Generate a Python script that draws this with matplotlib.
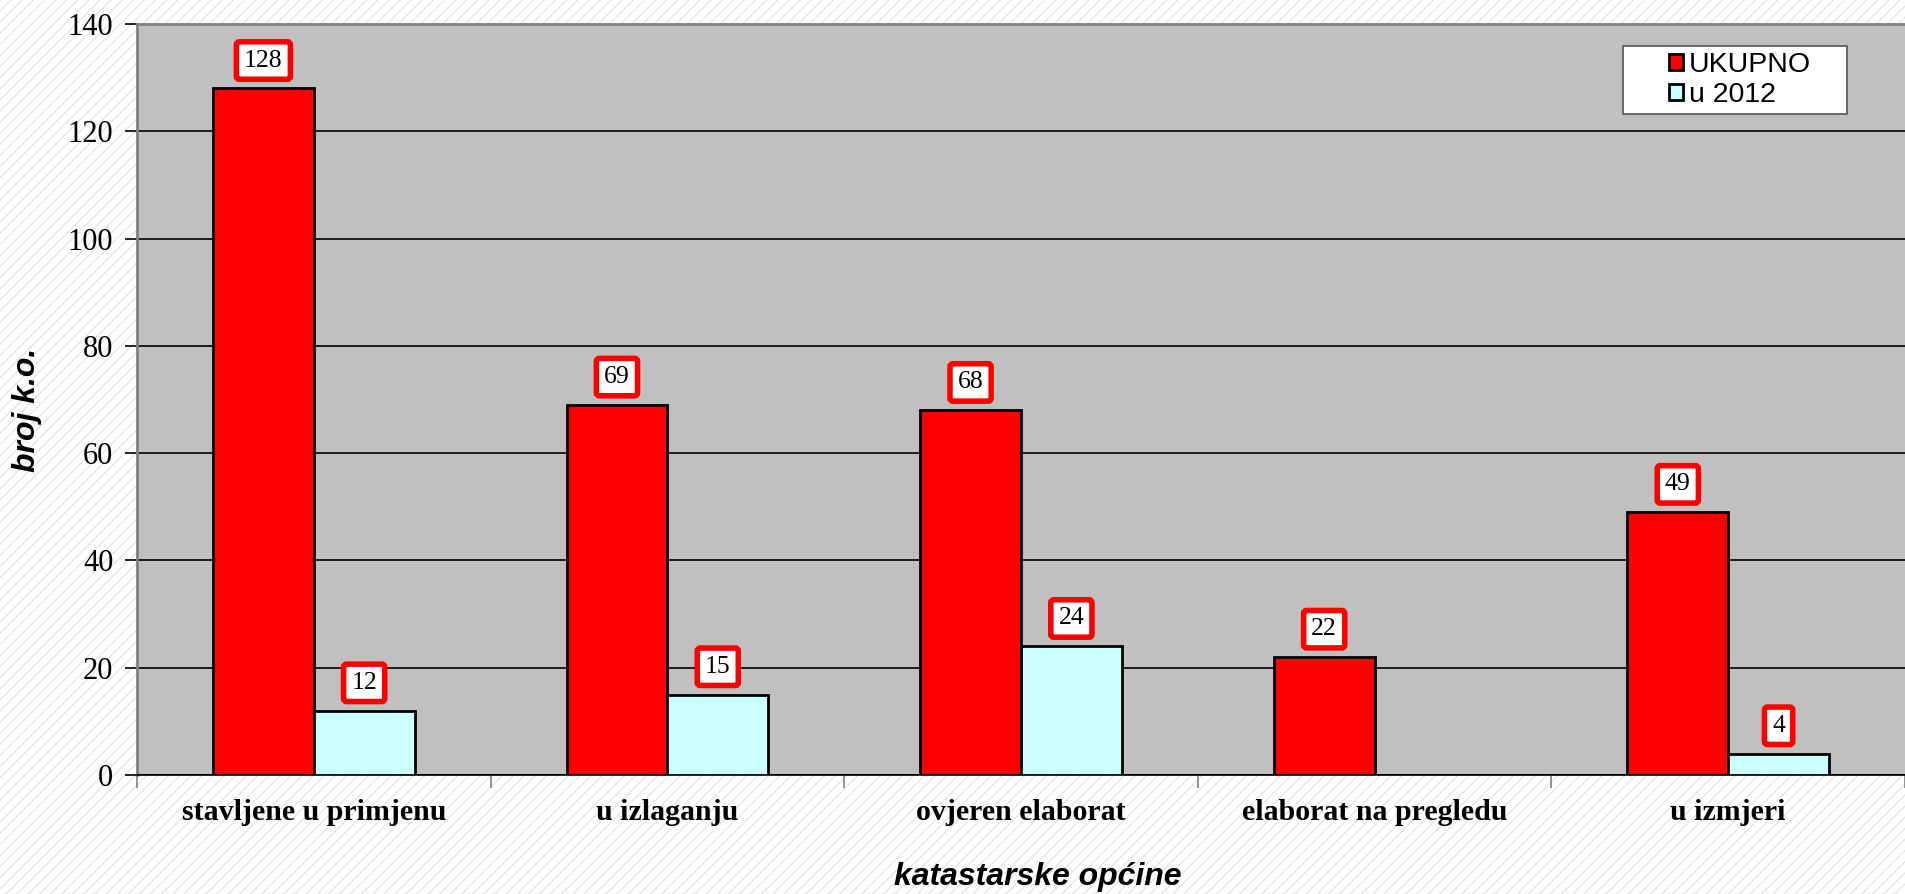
import numpy as np
import matplotlib
matplotlib.use("Agg")
import matplotlib.pyplot as plt
from matplotlib.patches import Rectangle

categories = ["stavljene u primjenu", "u izlaganju", "ovjeren elaborat",
              "elaborat na pregledu", "u izmjeri"]
ukupno = [128, 69, 68, 22, 49]
u_2012 = [12, 15, 24, 0, 4]
series_names = ["UKUPNO", "u 2012"]
y_ticks = [0, 20, 40, 60, 80, 100, 120, 140]

plt.rcParams['hatch.linewidth'] = 1.0

W, H = 1905, 894
fig = plt.figure(figsize=(W / 100, H / 100), dpi=100)
fig.patch.set_facecolor("white")
# light diagonal hatch on the chart background
bg = Rectangle((0, 0), 1, 1, transform=fig.transFigure, facecolor="white",
               edgecolor="#e6e6e6", hatch="///", linewidth=0, zorder=-10)
fig.patches.append(bg)

ax = fig.add_axes([0.0719, 0.1331, 0.9281, 0.8401])
ax.set_facecolor("#c0c0c0")

x = np.arange(len(categories))
w = 0.285
bars1 = ax.bar(x - w / 2, ukupno, w, color="#ff0000", edgecolor="black",
               linewidth=2, label=series_names[0], zorder=3)
bars2 = ax.bar(x + w / 2, u_2012, w, color="#ccffff", edgecolor="black",
               linewidth=2, label=series_names[1], zorder=3)
for b in bars2:
    if b.get_height() == 0:
        b.set_visible(False)

# value labels in red-framed boxes
for bars in (bars1, bars2):
    for b in bars:
        h = b.get_height()
        if h == 0:
            continue
        ax.annotate(f"{h:.0f}", (b.get_x() + b.get_width() / 2, h),
                    xytext=(0, 20), textcoords="offset points",
                    ha="center", va="center", fontsize=18.5,
                    family="Liberation Serif", zorder=5,
                    bbox=dict(boxstyle="round,pad=0.3,rounding_size=0.12",
                              fc="white", ec="#ff0000", lw=4))

ax.set_ylim(0, 140)
ax.set_xlim(-0.5, len(categories) - 0.5)
ax.set_yticks(y_ticks)
ax.set_yticklabels([str(t) for t in y_ticks], family="Liberation Serif",
                   fontsize=22)
ax.yaxis.grid(True, color="black", linewidth=1.2, zorder=1)
ax.set_axisbelow(True)
ax.tick_params(axis="y", direction="out", length=9, width=1.2,
               color="black", pad=8)

ax.set_xticks(x)
ax.set_xticklabels(categories, family="Liberation Serif", fontsize=21.5,
                   fontweight="bold")
ax.set_xticks(np.arange(len(categories) + 1) - 0.5, minor=True)
ax.tick_params(axis="x", which="major", length=0, pad=17)
ax.tick_params(axis="x", which="minor", direction="out", length=9,
               width=1.2, color="#808080")

for s in ("left", "top"):
    ax.spines[s].set_color("#808080")
    ax.spines[s].set_linewidth(2)
ax.spines["right"].set_visible(False)
ax.spines["bottom"].set_color("black")
ax.spines["bottom"].set_linewidth(1.2)

fig.text(1038 / W, 1 - 877 / H, "katastarske općine", family="Liberation Sans",
         fontsize=23, fontweight="bold", style="italic",
         ha="center", va="center")
fig.text(27 / W, 1 - 410 / H, "broj k.o.", family="Liberation Sans",
         fontsize=23, fontweight="bold", style="italic", rotation=90,
         ha="center", va="center")

# legend frame drawn separately (text sits centred with wide side margins)
frame = Rectangle((1623 / W, 1 - 114 / H), 224 / W, 68 / H,
                  transform=fig.transFigure, facecolor="white",
                  edgecolor="#555555", linewidth=1.2, zorder=4)
fig.patches.append(frame)
leg = fig.legend(handles=[bars1, bars2], labels=series_names,
                 loc="center", bbox_to_anchor=(1740 / W, 1 - 80 / H),
                 prop={"family": "Liberation Sans", "size": 20.5},
                 frameon=False, handlelength=0.5, handleheight=0.5,
                 handletextpad=0.2, borderpad=0, labelspacing=0.15)
leg.set_zorder(6)
for hdl in leg.legend_handles:
    hdl.set_linewidth(2)

fig.savefig("out.png", dpi=100)
